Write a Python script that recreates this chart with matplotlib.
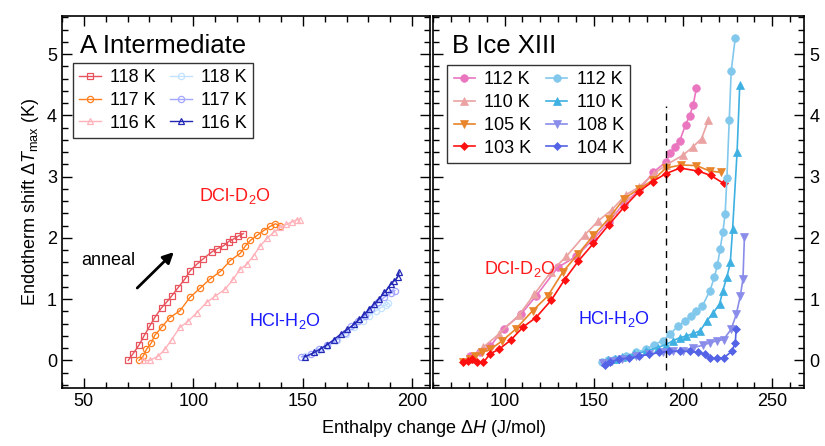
import numpy as np
import matplotlib
matplotlib.use("Agg")
import matplotlib.pyplot as plt
from matplotlib.ticker import MultipleLocator

plt.rcParams['font.family'] = ['Liberation Sans', 'DejaVu Sans']
plt.rcParams['mathtext.fontset'] = 'custom'
plt.rcParams['mathtext.rm'] = 'Liberation Sans'
plt.rcParams['mathtext.it'] = 'Liberation Sans:italic'
plt.rcParams['mathtext.bf'] = 'Liberation Sans:bold'

# ---------------- panel A : intermediate ----------------
a_dcl_118_x = [70.3, 72.5, 75.2, 77.5, 80.1, 82.4, 85.5, 87.8, 90.1, 93.1, 96.2, 98.5, 101.6,
               104.6, 108.4, 110.7, 113.8, 116.1, 118.3, 120.6, 122.9]
a_dcl_118_y = [0.0, 0.11, 0.25, 0.40, 0.56, 0.70, 0.86, 0.95, 1.05, 1.19, 1.33, 1.46, 1.57,
               1.66, 1.77, 1.82, 1.87, 1.94, 1.98, 2.03, 2.07]
a_dcl_117_x = [75.2, 77.1, 78.6, 80.9, 82.4, 85.5, 89.3, 93.9, 98.5, 103.1, 107.7, 112.3, 116.9,
               121.5, 123.8, 126.1, 129.1, 132.2, 135.2, 137.5, 139.5]
a_dcl_117_y = [0.0, 0.07, 0.18, 0.29, 0.41, 0.54, 0.70, 0.81, 1.03, 1.18, 1.33, 1.45, 1.63,
               1.75, 1.87, 1.96, 2.04, 2.12, 2.19, 2.23, 2.20]
a_dcl_116_x = [77.1, 80.1, 84.0, 87.0, 90.1, 93.9, 97.7, 101.6, 106.2, 110.0, 114.5, 118.3, 121.4,
               124.5, 127.5, 130.6, 133.6, 136.7, 139.8, 142.5, 145.0, 147.5, 148.5]
a_dcl_116_y = [0.0, 0.0, 0.07, 0.18, 0.34, 0.54, 0.64, 0.78, 0.95, 1.05, 1.16, 1.33, 1.49,
               1.57, 1.71, 1.87, 1.99, 2.09, 2.17, 2.22, 2.26, 2.30, 2.29]
a_hcl_118_x = [151.2, 156.6, 161.2, 165.8, 169.6, 173.4, 177.3, 180.3, 183.4, 185.6, 187.9, 189.0]
a_hcl_118_y = [0.07, 0.15, 0.23, 0.34, 0.43, 0.54, 0.64, 0.73, 0.81, 0.86, 0.90, 0.93]
a_hcl_117_x = [149.4, 153.9, 157.6, 161.2, 165.3, 169.1, 172.2, 175.2, 178.3, 181.3, 184.4,
               187.2, 190.3, 192.1]
a_hcl_117_y = [0.06, 0.10, 0.18, 0.25, 0.34, 0.45, 0.56, 0.64, 0.73, 0.84, 0.95,
               1.03, 1.10, 1.14]
a_hcl_116_x = [151.2, 155.1, 158.1, 161.2, 164.2, 167.3, 170.4, 173.4, 175.7, 178.0, 180.3,
               182.6, 184.9, 187.2, 188.7, 190.3, 191.8, 193.3, 194.0]
a_hcl_116_y = [0.06, 0.13, 0.19, 0.26, 0.34, 0.43, 0.51, 0.59, 0.67, 0.75, 0.84,
               0.92, 1.01, 1.11, 1.17, 1.25, 1.30, 1.36, 1.44]

# ---------------- panel B : ice XIII ----------------
b_dcl_112_x = [80.7, 86.4, 92.0, 99.6, 109.1, 117.6, 129.9, 140.3, 149.8, 158.3, 166.9, 175.4,
               183.3, 190.5, 192.8, 195.3, 198.1, 201.5, 203.7, 205.7, 207.5]
b_dcl_112_y = [0.08, 0.13, 0.23, 0.52, 0.75, 1.05, 1.52, 1.70, 1.98, 2.26, 2.56, 2.78,
               3.07, 3.24, 3.38, 3.49, 3.58, 3.85, 3.99, 4.17, 4.44]
b_dcl_110_x = [80.7, 88.2, 96.8, 108.1, 116.7, 126.1, 134.7, 145.0, 152.6, 160.2, 167.8, 175.4,
               183.9, 190.5, 200.0, 205.7, 210.4, 214.2]
b_dcl_110_y = [0.02, 0.22, 0.43, 0.74, 1.08, 1.45, 1.70, 2.05, 2.28, 2.46, 2.70, 2.83,
               3.05, 3.19, 3.35, 3.49, 3.62, 3.92]
b_dcl_105_x = [76.5, 80.7, 83.5, 87.3, 92.0, 98.7, 106.2, 115.7, 124.2, 132.8, 141.3, 149.8,
               158.3, 166.9, 175.4, 183.0, 190.5, 199.0, 207.5, 215.1, 221.2]
b_dcl_105_y = [-0.03, 0.02, 0.07, 0.13, 0.18, 0.32, 0.51, 0.81, 1.05, 1.45, 1.74, 2.04,
               2.31, 2.64, 2.80, 2.94, 3.14, 3.19, 3.18, 3.09, 3.07]
b_dcl_103_x = [76.9, 79.7, 82.0, 84.5, 88.2, 92.0, 96.8, 103.4, 110.6, 117.6, 126.1, 133.7,
               141.3, 149.8, 158.3, 166.9, 175.1, 183.0, 190.5, 198.4, 208.5, 215.5, 222.7]
b_dcl_103_y = [-0.03, -0.01, 0.02, -0.03, -0.03, 0.11, 0.18, 0.33, 0.55, 0.70, 0.98, 1.32,
               1.62, 1.91, 2.21, 2.50, 2.75, 2.92, 3.05, 3.14, 3.09, 3.02, 2.89]
b_hcl_112_x = [154.5, 158.0, 162.1, 167.8, 173.5, 179.1, 183.9, 188.6, 192.8, 197.1, 200.9,
               204.7, 207.5, 210.9, 215.1, 217.6, 219.3, 220.8, 222.3, 223.6, 224.6, 225.9,
               227.0, 229.3]
b_hcl_112_y = [-0.03, 0.0, 0.02, 0.07, 0.13, 0.18, 0.26, 0.32, 0.43, 0.56, 0.64,
               0.73, 0.81, 0.89, 1.14, 1.36, 1.56, 1.82, 2.09, 2.39, 2.97, 3.92,
               4.72, 5.27]
b_hcl_110_x = [158.0, 162.0, 165.9, 172.5, 179.1, 185.8, 190.5, 194.3, 198.1, 201.9, 205.7,
               209.5, 213.2, 217.0, 220.5, 222.3, 224.6, 226.5, 227.8, 230.3, 231.8]
b_hcl_110_y = [0.0, 0.02, 0.05, 0.10, 0.15, 0.21, 0.26, 0.32, 0.37, 0.40, 0.44,
               0.48, 0.64, 0.78, 0.92, 1.14, 1.36, 1.60, 2.15, 3.40, 4.50]
b_hcl_108_x = [155.0, 160.0, 165.9, 173.5, 181.1, 188.6, 194.3, 200.0, 205.7, 211.4, 215.1,
               218.9, 222.7, 227.0, 229.8, 232.1, 233.6, 234.4]
b_hcl_108_y = [-0.04, -0.01, 0.02, 0.07, 0.10, 0.14, 0.15, 0.16, 0.21, 0.25, 0.29,
               0.32, 0.34, 0.51, 0.75, 1.05, 1.33, 2.01]
b_hcl_104_x = [156.5, 159.3, 164.0, 169.8, 175.4, 181.1, 186.7, 192.4, 198.1, 203.7, 208.5,
               212.3, 215.1, 218.9, 222.7, 227.4, 229.3, 229.8]
b_hcl_104_y = [-0.07, -0.03, 0.02, 0.04, 0.07, 0.10, 0.13, 0.15, 0.15, 0.15, 0.13,
               0.10, 0.04, 0.04, 0.04, 0.15, 0.29, 0.51]

a_series = [
    (a_dcl_118_x, a_dcl_118_y, '118 K', '#e8525c', 's'),
    (a_dcl_117_x, a_dcl_117_y, '117 K', '#ff7f1e', 'o'),
    (a_dcl_116_x, a_dcl_116_y, '116 K', '#ffb2ba', '^'),
    (a_hcl_118_x, a_hcl_118_y, '118 K', '#c2e2ff', 'o'),
    (a_hcl_117_x, a_hcl_117_y, '117 K', '#a2a6ff', 'o'),
    (a_hcl_116_x, a_hcl_116_y, '116 K', '#2228b4', '^'),
]
b_series = [
    (b_dcl_112_x, b_dcl_112_y, '112 K', '#ea76c0', 'o'),
    (b_dcl_110_x, b_dcl_110_y, '110 K', '#eaa2a2', '^'),
    (b_dcl_105_x, b_dcl_105_y, '105 K', '#e8842a', 'v'),
    (b_dcl_103_x, b_dcl_103_y, '103 K', '#ff1010', 'D'),
    (b_hcl_112_x, b_hcl_112_y, '112 K', '#82c8ec', 'o'),
    (b_hcl_110_x, b_hcl_110_y, '110 K', '#3eb0e2', '^'),
    (b_hcl_108_x, b_hcl_108_y, '108 K', '#8a8cea', 'v'),
    (b_hcl_104_x, b_hcl_104_y, '104 K', '#5462e6', 'D'),
]

fig = plt.figure(figsize=(8.25, 4.46), dpi=100)
axA = fig.add_axes([0.075, 0.130, 0.446, 0.834])
axB = fig.add_axes([0.525, 0.130, 0.450, 0.834])


def style_axes(ax, xmaj):
    ax.set_ylim(-0.45, 5.62)
    ax.xaxis.set_major_locator(MultipleLocator(xmaj))
    ax.xaxis.set_minor_locator(MultipleLocator(10))
    ax.yaxis.set_major_locator(MultipleLocator(1))
    ax.yaxis.set_minor_locator(MultipleLocator(0.2))
    ax.tick_params(which='both', direction='in', top=True, right=True, labelsize=13, width=1)
    ax.tick_params(which='major', length=7)
    ax.tick_params(which='minor', length=4)
    for sp in ax.spines.values():
        sp.set_linewidth(1.2)


def add_legend(ax, anchor):
    leg = ax.legend(ncol=2, loc='upper left', bbox_to_anchor=anchor, fontsize=13,
                    frameon=True, fancybox=False, edgecolor='black', handlelength=1.2,
                    handletextpad=0.5, columnspacing=0.8, labelspacing=0.32,
                    borderpad=0.35, borderaxespad=0.0)
    leg.get_frame().set_linewidth(1.0)
    return leg


# panel A
for x, y, lab, col, mk in a_series:
    axA.plot(x, y, color=col, marker=mk, ms=4.5, mfc='none', mew=0.9, lw=1.0, label=lab)
axA.set_xlim(40, 208)
style_axes(axA, 50)
axA.text(0.05, 0.92, 'A Intermediate', transform=axA.transAxes, fontsize=18.5, va='center')
add_legend(axA, (0.03, 0.874))
axA.text(119, 2.69, 'DCl-D$_2$O', color='#ff1a1a', fontsize=13, ha='center', va='center')
axA.text(142, 0.64, 'HCl-H$_2$O', color='#1a1aff', fontsize=13, ha='center', va='center')
axA.text(49, 1.63, 'anneal', fontsize=13, ha='left', va='center')
axA.annotate('', xy=(92, 1.8), xytext=(73.5, 1.15),
             arrowprops=dict(arrowstyle='-|>', color='black', lw=2, mutation_scale=16))
axA.set_ylabel(r'Endotherm shift $\mathit{\Delta T}_{\rm max}$ (K)', fontsize=13, labelpad=4)

# panel B
for x, y, lab, col, mk in b_series:
    ms = 4.5 if mk == 'D' else 5.5
    axB.plot(x, y, color=col, marker=mk, ms=ms, mec=col, mew=0.5, lw=1.2, label=lab)
axB.set_xlim(60, 268)
style_axes(axB, 50)
axB.tick_params(which='both', labelleft=False, labelright=True)
axB.axvline(190.3, ymin=(-0.15 + 0.45) / 6.07, ymax=(4.15 + 0.45) / 6.07,
            color='black', ls=(0, (5, 4)), lw=1.0)
axB.text(0.05, 0.92, 'B Ice XIII', transform=axB.transAxes, fontsize=18.5, va='center')
add_legend(axB, (0.038, 0.868))
axB.text(108.5, 1.49, 'DCl-D$_2$O', color='#ff1a1a', fontsize=13, ha='center', va='center')
axB.text(161.3, 0.67, 'HCl-H$_2$O', color='#1a1aff', fontsize=13, ha='center', va='center')

fig.text(0.525, 0.04, r'Enthalpy change $\mathit{\Delta H}$ (J/mol)', fontsize=13,
         ha='center', va='center')

fig.savefig('out.png', dpi=100)
